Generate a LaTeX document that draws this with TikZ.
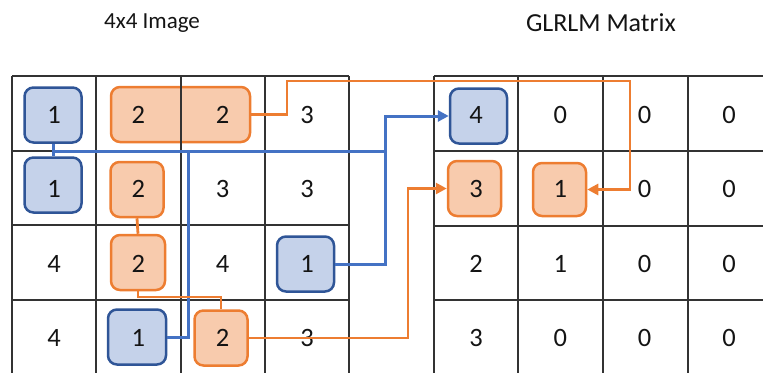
\documentclass[tikz,border=0pt]{standalone}
\usepackage{fontspec}
\setmainfont{Carlito}
\usetikzlibrary{arrows.meta}
\definecolor{bfill}{HTML}{C5D2EA}
\definecolor{bline}{HTML}{2F5597}
\definecolor{bconn}{HTML}{4472C4}
\definecolor{ofill}{HTML}{F8CBAD}
\definecolor{oline}{HTML}{ED7D31}
\definecolor{gridc}{HTML}{333333}
\definecolor{txt}{HTML}{141414}
\begin{document}
\begin{tikzpicture}[x=1pt,y=-1pt,
  gridline/.style={draw=gridc,line width=1.8pt},
  bbox/.style={rectangle,draw=bline,fill=bfill,line width=2.5pt,rounded corners=9pt,inner sep=0pt,minimum width=57pt,minimum height=55pt},
  obox/.style={rectangle,draw=oline,fill=ofill,line width=2.5pt,rounded corners=9pt,inner sep=0pt,minimum width=53pt,minimum height=55pt},
  num/.style={font=\fontsize{26.5}{26.5}\selectfont,text=txt,inner sep=0pt},
  title/.style={font=\fontsize{#1}{#1}\selectfont,text=txt,inner sep=0pt,anchor=base},
  bc/.style={draw=bconn,line width=3pt},
  oc/.style={draw=oline,line width=2.8pt},
  tip/.style={-{Triangle[length=11pt,width=11pt]}}
]
\useasboundingbox (0,0) rectangle (763,373);

% titles
\node[title=23] (t1) at (152,28.5) {4x4 Image};
\node[title=26] (t2) at (601,31) {GLRLM Matrix};

% boxes
\node[bbox] (B00) at (53,115) {};
\node[bbox] (B10) at (53,185) {};
\node[bbox] (B23) at (305.5,264) {};
\node[bbox,minimum width=58pt] (B31) at (137,337) {};
\node[obox,minimum width=139pt] (O01) at (180.5,114.5) {};
\node[obox] (O11) at (137,189.5) {};
\node[obox,minimum width=54pt] (O21) at (138,262.5) {};
\node[obox] (O32) at (221,338) {};
\node[bbox] (RB) at (478.5,116) {};
\node[obox] (RO3) at (474.5,188.5) {};
\node[obox,minimum height=53pt] (RO1) at (559.5,189.5) {};

% grids
\foreach \x in {12,96,181,265,349} \draw[gridline] (\x,76) -- (\x,373);
\foreach \y in {76,151,225,300} \draw[gridline] (12,\y) -- (349,\y);
\foreach \x in {434,518,603,688} \draw[gridline] (\x,76) -- (\x,373);
\foreach \y in {76,151,226,300} \draw[gridline] (434,\y) -- (763,\y);

% numbers
\foreach \r/\vals in {0/{1,2,2,3},1/{1,2,3,3},2/{4,2,4,1},3/{4,1,2,3}}
  \foreach \v [count=\c from 0] in \vals
    \node[num] (L\r\c) at ({54+84.33*\c},{114.5+74.5*\r}) {\v};
\foreach \r/\vals in {0/{4,0,0,0},1/{3,1,0,0},2/{2,1,0,0},3/{3,0,0,0}}
  \foreach \v [count=\c from 0] in \vals
    \node[num] (R\r\c) at ({476+84.33*\c},{114.5+74.5*\r}) {\v};

% blue connectors
\coordinate (bj) at (53,151);
\coordinate (bk) at (385,151);
\coordinate (bv) at (188,151);
\coordinate (bt) at (385,116);
\draw[bc] (B00.south) -- (B10.north);
\draw[bc] (bj) -- (bk);
\draw[bc] (B31.east) -| (bv);
\draw[bc,tip] (B23.east) -| (bt) -- (RB.west);

% orange connectors
\coordinate (o1) at (287,81);
\coordinate (o2) at (630,81);
\coordinate (oa) at (138,297);
\coordinate (ob) at (408,188.5);
\draw[oc,tip] (O01.east) -| (o1) -- (o2) |- (RO1.east);
\draw[oc] (O11.south) -- (O21.north);
\draw[oc] (O21.south) -- (oa) -| (O32.north);
\draw[oc,tip] (O32.east) -| (ob) -- (RO3.west);
\end{tikzpicture}
\end{document}
